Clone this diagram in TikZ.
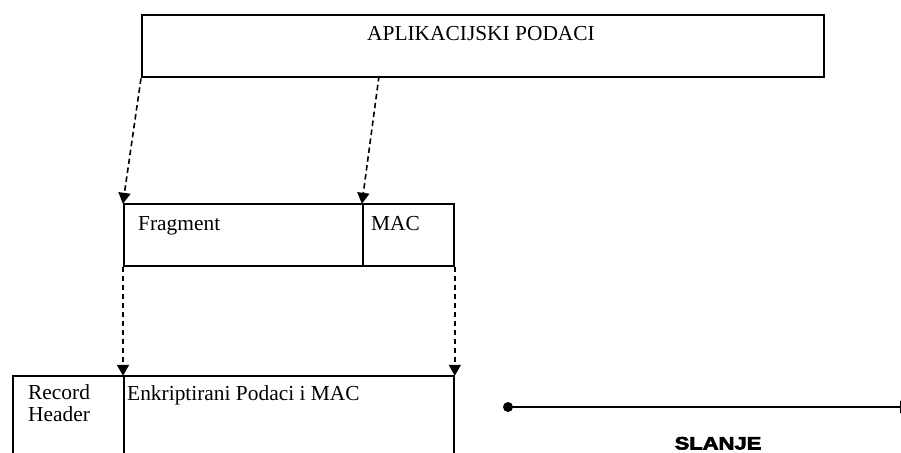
\documentclass[tikz,border=0pt]{standalone}
\usepackage{fontspec}
\setmainfont{Liberation Serif}
\newfontfamily\heavysans{Liberation Sans}[FakeBold=3]
\usetikzlibrary{arrows.meta}
\tikzset{
  box/.style={draw, line width=1.8pt, rectangle, inner sep=0pt, anchor=north west},
  topbox/.style={box, line width=2.4pt},
  lbl/.style={inner sep=0pt, anchor=base west, font=\fontsize{21.4pt}{21.5pt}\selectfont, align=left},
  flow/.style={line width=1.6pt, dash pattern=on 5.5pt off 3.5pt, -{Triangle[width=12pt,length=11pt]}, shorten >=-0.8pt},
  send/.style={line width=2pt, -{Triangle[width=12pt,length=12pt]}},
}
\begin{document}
\begin{tikzpicture}[x=1pt,y=-1pt]
  \useasboundingbox (0,0) rectangle (901,452);
  \clip (0,0) rectangle (901,452);
  \fill[white] (0,0) rectangle (901,452);

  % application data
  \node[topbox, minimum width=682pt, minimum height=62pt] (app) at (141,14) {};
  \node[lbl, anchor=base] (applbl) at (481,41) {APLIKACIJSKI PODACI};
  \coordinate (macsrc) at (379,76);

  % fragment and MAC
  \node[box, minimum width=239pt, minimum height=62pt] (frag) at (123,203) {};
  \node[box, minimum width=91pt, minimum height=62pt] (mac) at (362,203) {};
  \node[lbl] (fraglbl) at (138,230) {Fragment};
  \node[lbl] (maclbl) at (371,230) {MAC};

  % record: header and encrypted payload (open at the bottom)
  \node[box, minimum width=111pt, minimum height=100pt] (hdr) at (12,375) {};
  \node[box, minimum width=330pt, minimum height=100pt] (enc) at (123,375) {};
  \node[lbl] (hdrlbl) at (28,421) {Record\\Header};
  \node[lbl] (enclbl) at (127,400) {Enkriptirani Podaci i MAC};

  % data flow
  \draw[flow] (app.south west) -- (frag.north west);
  \draw[flow] (macsrc) -- (mac.north west);
  \draw[flow] (frag.south west) -- (enc.north west);
  \draw[flow] (mac.south east) -- (enc.north east);

  % sending direction
  \node[circle, fill, inner sep=0pt, minimum size=10pt] (start) at (508,407) {};
  \coordinate (sendend) at (912,407);
  \draw[send] (start.center) -- (sendend);
  \node[inner sep=0pt, anchor=base] (sendlbl) at (718,449.5)
    {\scalebox{1.22}[1]{\heavysans\bfseries\fontsize{18pt}{18pt}\selectfont SLANJE}};
\end{tikzpicture}
\end{document}
